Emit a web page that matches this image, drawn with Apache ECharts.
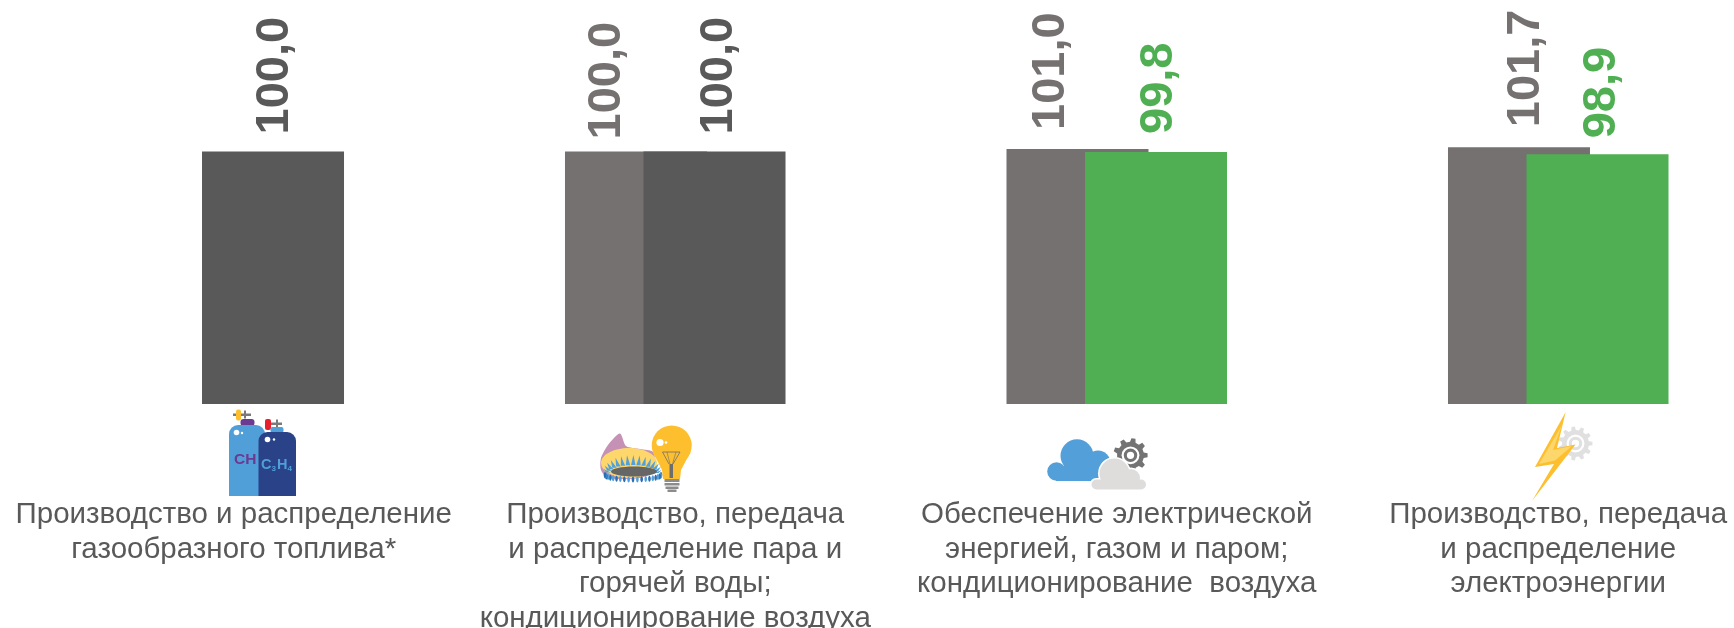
<!DOCTYPE html>
<html><head><meta charset="utf-8">
<style>html,body{margin:0;padding:0;background:#fff}#c{width:1734px;height:628px}</style>
<script src="https://cdn.jsdelivr.net/npm/echarts@6/dist/echarts.min.js"></script>
</head><body><div id="c"></div>
<script>
const categories = [
  'Производство и распределение\nгазообразного топлива*',
  'Производство, передача\nи распределение пара и\nгорячей воды;\nкондиционирование воздуха',
  'Обеспечение электрической\nэнергией, газом и паром;\nкондиционирование  воздуха',
  'Производство, передача\nи распределение\nэлектроэнергии'
];
const previousValues = [null, 100.0, 101.0, 101.7];
const currentValues = [100.0, 100.0, 99.8, 98.9];
const GREY = '#767171', DARK = '#595959', GREEN = '#4FAF52';
const currentColors = [DARK, DARK, GREEN, GREEN];
// label nudges on screen: [right, down]
const previousLabelShift = [[0,0], [-29,7], [-26.5,0], [6.6,-1]];
const currentLabelShift = [[2,2], [4.4,2], [3.3,1], [4.4,3]];
const fmt = v => v.toFixed(1).replace('.', ',');
const FONT = '"Liberation Sans", Arial, sans-serif';

function gear(cx, cy, R, r, teeth, fill) {
  const pts = [];
  for (let i = 0; i < teeth; i++) {
    const a = i / teeth * Math.PI * 2, s = Math.PI * 2 / teeth;
    [[-0.30, r], [-0.17, R], [0.17, R], [0.30, r]].forEach(p => {
      const t = a + p[0] * s;
      pts.push([cx + p[1] * Math.cos(t), cy + p[1] * Math.sin(t)]);
    });
  }
  return [
    {type:'polygon', shape:{points:pts}, style:{fill}},
    {type:'circle', shape:{cx, cy, r:r*0.66}, style:{fill:'#fff'}},
    {type:'ring', shape:{cx, cy, r:r*0.5, r0:r*0.27}, style:{fill}}
  ];
}
const circle = (cx, cy, r, fill) => ({type:'circle', shape:{cx, cy, r}, style:{fill}});
const rect = (x, y, width, height, fill, rr) => ({type:'rect', shape:{x, y, width, height, r:rr||0}, style:{fill}});
const poly = (points, fill, smooth) => ({type:'polygon', shape:{points, smooth:smooth||0}, style:{fill}});
const line = (x1, y1, x2, y2, stroke, w) => ({type:'line', shape:{x1,y1,x2,y2}, style:{stroke, lineWidth:w}});
const ell = (cx, cy, rx, ry, fill) => ({type:'ellipse', shape:{cx, cy, rx, ry}, style:{fill}});

function cylinders() {
  const B1='#519FD9', B2='#2A4288';
  return [
    rect(233,413.5,18,2.5,'#7a7a7a'), rect(244,410.5,2,8,'#7a7a7a'),
    rect(236,409.5,5,11,'#FDBF2D',2),
    rect(240.5,419,14,7,'#6B3A91',3),
    rect(229,425,36,71,B1,[9,9,0,0]),
    circle(236.5,432.5,2.8,'#fff'), circle(242,433,1.2,'#fff'),
    {type:'text', style:{x:234,y:452,text:'CH',fill:'#6B3A91',font:'bold 15.5px '+FONT}},
    rect(271,422.5,11,2.5,'#7a7a7a'), rect(276,419.5,2,8,'#7a7a7a'),
    rect(265,419,6,11,'#E8202E',2),
    rect(270.5,427,13,6,B1,2),
    rect(258.5,432,37.5,64,B2,[9,9,0,0]),
    circle(267.5,439.5,2.8,'#fff'), circle(274,439.5,1.2,'#fff'),
    {type:'text', style:{x:261,y:457,text:'{a|C}{s|3}{a|H}{s|4}',fill:B1,
      rich:{a:{font:'bold 14.5px '+FONT,fill:B1,verticalAlign:'top'},s:{font:'bold 8px '+FONT,fill:B1,padding:[8,1,0,0]}}}}
  ];
}
function burner() {
  const out = [
    poly([[620,433.5],[608,445],[601,458],[601,470],[608,478],[640,478],[655,470],[653,452],[640,449],[626,446]],'#C591B5',0.25),
    ell(629,463,28,15,'#FDD76B')
  ];
  for (let i = 0; i < 15; i++) {
    const t = Math.PI * (1.02 + i / 14 * 0.98);
    const cx = 632.5 + 24 * Math.cos(t), cy = 471 + 8 * Math.sin(t);
    const tip = [632.5 + 29 * Math.cos(t), 470 + 15 * Math.sin(t)];
    out.push(poly([[cx-2.2,cy+2],tip,[cx+2.2,cy+2]],'#4FA0DB'));
  }
  out.push(ell(634,471.5,23,5,'#666666'));
  for (let i = 0; i < 21; i++) {
    const t = Math.PI * (i / 20);
    const x = 633 + 28 * Math.cos(t), y = 475 + 4.5 * Math.sin(t);
    out.push(ell(x,y,1.3,3,i%2?'#4FA0DB':'#2A6DB0'));
  }
  const Y='#FDBF2D', G='#6d6d6d';
  out.push(
    circle(671.7,445.5,20,Y),
    poly([[653,452],[690.5,452],[681,470],[680,479],[663,479],[662,470]],Y),
    circle(660,442.5,3.6,'#fff'), circle(666,442.5,1.3,'#fff'),
    line(662.5,452,680,452,G,0.8), line(662.5,452,669,464,G,0.8), line(680,452,673,464,G,0.8),
    line(667,452,670,464,G,0.6), line(676,452,672.5,464,G,0.6),
    rect(669.5,464,3.5,14,G),
    rect(664.5,479,15,3,'#8c8c8c'), rect(664.5,483,15,2.5,'#8c8c8c'), rect(665.5,486.5,13,2.5,'#8c8c8c'),
    rect(667.5,489.5,9,2.5,'#8c8c8c')
  );
  return out;
}
function clouds() {
  const B='#529FD9', G='#DEDDDC', W='#fff';
  return [
    circle(1056.5,471.5,9.3,B), circle(1077,455.8,16.5,B), circle(1098,463,12.5,B),
    rect(1056,466,53,15,B),
    ...gear(1130.5,455.3,17.2,13.5,9,'#737373'),
    circle(1114.5,473.5,16.5,W), circle(1131,478,10.5,W), rect(1090,478,57,12.5,W,6),
    circle(1114.5,473.5,15,G), circle(1131,478,9,G), rect(1091.5,479.5,54.5,10,G,5)
  ];
}
function bolt() {
  return [
    ...gear(1575.5,443.5,17,13.5,11,'#E0E0E0'),
    poly([[1565.7,412],[1535,467],[1554,464],[1532,501],[1575.5,444.4],[1557,448]],'#FDBF2D'),
    poly([[1562,425],[1539,464],[1555,460.5],[1572,446],[1553,450]],'#FDD76B')
  ];
}

const labelStyle = (color, shift) => ({
  show:true, position:'top', rotate:90, align:'left', verticalAlign:'middle',
  distance:19, color, fontFamily:FONT, fontWeight:'bold', fontSize:47,
  offset:[-shift[1], shift[0]],
  formatter:p => fmt(p.value)
});
const chart = echarts.init(document.getElementById('c'), null, {renderer:'canvas'});
chart.setOption({
  animation:false,
  backgroundColor:'#fff',
  grid:{left:13, top:0, width:1766, height:404, containLabel:false, outerBoundsMode:'none'},
  xAxis:{type:'category', data:categories, axisLine:{show:false}, axisTick:{show:false},
    axisLabel:{interval:0, margin:94, color:'#595959', fontFamily:FONT, fontSize:29.5, lineHeight:34.4, align:'center', verticalAlign:'top', hideOverlap:false}},
  yAxis:{type:'value', min:0, max:160, show:false, splitLine:{show:false}},
  series:[
    {type:'bar', name:'previous', barWidth:142, barGap:'-44.7%',
      data:previousValues.map((v,i)=>({value:v, label:labelStyle(GREY, previousLabelShift[i])})),
      itemStyle:{color:GREY}},
    {type:'bar', name:'current', barWidth:142, barGap:'-44.7%',
      data:currentValues.map((v,i)=>({value:v, itemStyle:{color:currentColors[i]},
        label:labelStyle(currentColors[i], currentLabelShift[i])}))}
  ],
  graphic:[{type:'group', children:[...cylinders(), ...burner(), ...clouds(), ...bolt()]}]
});
</script></body></html>
